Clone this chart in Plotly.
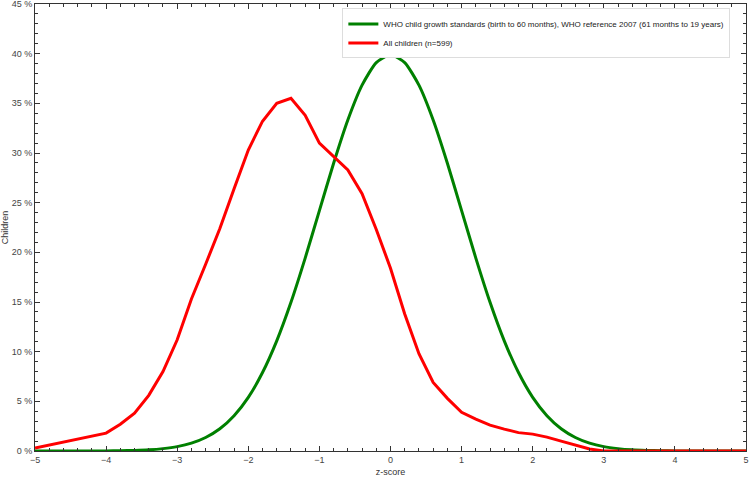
import plotly.graph_objects as go

z_who = [-5.0, -4.8, -4.6, -4.4, -4.2, -4.0, -3.8, -3.6, -3.4, -3.2, -3.0, -2.8, -2.6, -2.4, -2.2,
         -2.0, -1.8, -1.6, -1.4, -1.2, -1.0, -0.8, -0.6, -0.4, -0.2, 0.0, 0.2, 0.4, 0.6, 0.8,
         1.0, 1.2, 1.4, 1.6, 1.8, 2.0, 2.2, 2.4, 2.6, 2.8, 3.0, 3.2, 3.4, 3.6, 3.8, 4.0, 4.2,
         4.4, 4.6, 4.8, 5.0]
who_pct = [0.0, 0.0, 0.0, 0.0, 0.01, 0.01, 0.03, 0.06, 0.12, 0.24, 0.44, 0.79, 1.36, 2.24, 3.55,
           5.40, 7.90, 11.09, 14.97, 19.42, 24.20, 28.97, 33.32, 36.83, 39.10, 39.89, 39.10, 36.83,
           33.32, 28.97, 24.20, 19.42, 14.97, 11.09, 7.90, 5.40, 3.55, 2.24, 1.36, 0.79, 0.44,
           0.24, 0.12, 0.06, 0.03, 0.01, 0.01, 0.0, 0.0, 0.0, 0.0]

z_all = z_who
all_pct = [0.3, 0.6, 0.9, 1.2, 1.5, 1.8, 2.7, 3.8, 5.6, 8.0, 11.2, 15.3, 18.8, 22.4, 26.4,
           30.3, 33.2, 35.0, 35.5, 33.8, 31.0, 29.6, 28.3, 25.9, 22.3, 18.4, 13.8, 9.8, 6.9, 5.3,
           3.9, 3.2, 2.6, 2.2, 1.85, 1.7, 1.4, 1.0, 0.6, 0.2, 0.0, 0.0, 0.0, 0.0, 0.0, 0.0, 0.0,
           0.0, 0.0, 0.0, 0.0]

who_name = "WHO child growth standards (birth to 60 months), WHO reference 2007 (61 months to 19 years)"
all_name = "All children (n=599)"

fig = go.Figure()
fig.add_trace(go.Scatter(x=z_who, y=who_pct, mode="lines", name=who_name,
                         line=dict(color="#008000", width=3, shape="spline", smoothing=0.6)))
fig.add_trace(go.Scatter(x=z_all, y=all_pct, mode="lines", name=all_name,
                         line=dict(color="#ff0000", width=3)))

axis_common = dict(showline=True, linecolor="#333333", linewidth=1, mirror="allticks",
                   ticks="inside", ticklen=5, tickcolor="#333333", showgrid=False, zeroline=False,
                   automargin=False, ticklabeloverflow="allow",
                   tickfont=dict(family="Liberation Sans, Arial", size=9, color="#444444"))

fig.update_xaxes(range=[-5, 5], dtick=1, tick0=-5,
                 minor=dict(ticks="inside", ticklen=3, dtick=0.2, tickcolor="#333333"),
                 title=dict(text="z-score", font=dict(family="Liberation Sans, Arial", size=9, color="#333333"), standoff=4),
                 **axis_common)
fig.update_yaxes(range=[0, 45], dtick=5, ticksuffix=" %",
                 minor=dict(ticks="inside", ticklen=3, dtick=1, tickcolor="#333333"),
                 title=dict(text="Children", font=dict(family="Liberation Sans, Arial", size=9, color="#333333"), standoff=4),
                 **axis_common)

fig.update_layout(
    width=750, height=480,
    margin=dict(l=35, r=4, t=4, b=29),
    plot_bgcolor="white", paper_bgcolor="white",
    font=dict(family="Liberation Sans, Arial", size=9, color="#333333"),
    legend=dict(x=0.978, y=0.99, xanchor="right", yanchor="top",
                bgcolor="white", bordercolor="#dddddd", borderwidth=1,
                itemwidth=30,
                font=dict(size=8, color="#222222"), tracegroupgap=0),
    showlegend=True,
)

fig.write_html("out.html")
